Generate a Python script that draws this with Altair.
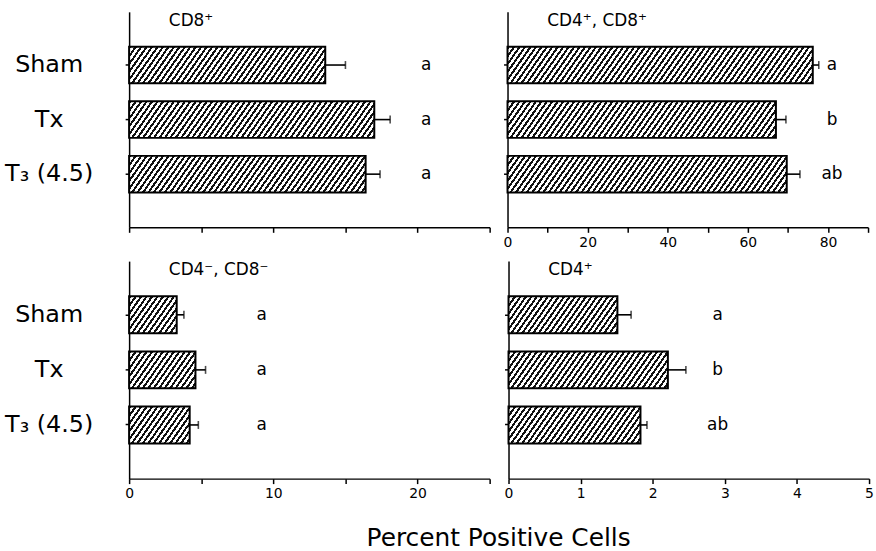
import math
import altair as alt
import pandas as pd

# ---------------- data ----------------
categories = ["Sham", "Tx", "T₃ (4.5)"]

cd8_pos = [13.6, 17.0, 16.4]
cd8_err = [1.4, 1.1, 1.0]
cd8_sig = ["a", "a", "a"]

dp_pos = [76.2, 67.0, 69.7]
dp_err = [1.5, 2.5, 3.3]
dp_sig = ["a", "b", "ab"]

dn_pos = [3.3, 4.6, 4.2]
dn_err = [0.5, 0.7, 0.6]
dn_sig = ["a", "a", "a"]

cd4_pos = [1.51, 2.21, 1.83]
cd4_err = [0.19, 0.25, 0.09]
cd4_sig = ["a", "b", "ab"]

# ---------------- style / layout ----------------
FONT = "DejaVu Sans"
PW = 363
P_IN = 0.33
P_OUT = 0.64


def hatch(w, h, angle=55, period=5.5, frac=0.45):
    """Diagonal hatch pattern as a linear gradient with hard stops."""
    th = math.radians(angle)
    s, c = math.sin(th), math.cos(th)
    smax = w * s + h * c
    k = smax / (w * w * s * s + h * h * c * c)
    pp = period * s
    stops = []
    n = int(math.ceil(smax / pp))
    for i in range(n):
        a = i * pp / smax
        if a >= 1:
            break
        b = min((i * pp + frac * pp) / smax, 1)
        e = min((i + 1) * pp / smax, 1)
        stops += [
            {"offset": round(a, 5), "color": "#111111"},
            {"offset": round(b, 5), "color": "#111111"},
            {"offset": round(b, 5), "color": "#ffffff"},
            {"offset": round(e, 5), "color": "#ffffff"},
        ]
    return {"gradient": "linear", "x1": 0, "y1": 0,
            "x2": round(k * w * s, 6), "y2": round(k * h * c, 6), "stops": stops}


def panel(title, vals, errs, sig, domain, ticks, label_mod, letter_x,
          y_labels, x_labels, ph):
    step = ph / (3 - P_IN + 2 * P_OUT)
    bw = step * (1 - P_IN)
    px = PW / (domain[1] - domain[0])
    df = pd.DataFrame({
        "idx": list(range(len(categories))),
        "cat": categories,
        "val": vals,
        "hi": [v + e for v, e in zip(vals, errs)],
        "sig": sig,
    })
    conds = [{"test": f"datum.idx === {i}", "value": hatch(v * px, bw)}
             for i, v in enumerate(vals[:-1])]
    fill = {"condition": conds, "value": hatch(vals[-1] * px, bw)}

    if y_labels:
        yaxis = alt.Axis(labels=True, labelFontSize=24, labelAlign="center",
                         labelBaseline="middle", labelPadding=77, tickSize=4,
                         title=None)
    else:
        yaxis = alt.Axis(labels=False, tickSize=4, title=None)

    if x_labels:
        xaxis = alt.Axis(values=ticks, tickSize=5, labelPadding=3, title=None,
                         format="~r",
                         labelExpr=f"abs(datum.value % {label_mod}) < 1e-6 ? datum.label : ''",
                         labelFlush=False)
    else:
        xaxis = alt.Axis(values=ticks, tickSize=5, labels=False, title=None)

    y = alt.Y("cat:N", sort=categories,
              scale=alt.Scale(paddingInner=P_IN, paddingOuter=P_OUT),
              axis=yaxis)
    ys = alt.Y("cat:N", sort=categories)
    x = alt.X("val:Q", scale=alt.Scale(domain=domain, nice=False, zero=False),
              axis=xaxis)

    base = alt.Chart(df)
    bars = base.mark_bar(stroke="black", strokeWidth=2, fillOpacity=1).encode(
        x=x, y=y, fill=fill)
    rules = base.mark_rule(color="black", strokeWidth=1.6).encode(
        x="val:Q", x2="hi:Q", y=ys)
    caps = base.mark_tick(color="black", thickness=1.6, size=8).encode(
        x="hi:Q", y=ys)
    letters = base.mark_text(font=FONT, fontSize=17, color="black",
                             align="center", baseline="middle").encode(
        x=alt.X(datum=letter_x), y=ys, text="sig:N")
    ttl = alt.Chart(pd.DataFrame({"t": [title]})).mark_text(
        font=FONT, fontSize=17, color="black", align="left", baseline="top").encode(
        x=alt.value(40), y=alt.value(1), text="t:N")
    return alt.layer(bars, rules, caps, letters, ttl).properties(width=PW, height=ph)


p1 = panel("CD8⁺", cd8_pos, cd8_err, cd8_sig, [0, 25],
           [0, 5, 10, 15, 20, 25], 10, 20.6, True, False, 217)
p2 = panel("CD4⁺, CD8⁺", dp_pos, dp_err, dp_sig, [0, 90],
           list(range(0, 91, 10)), 20, 81, False, True, 217)
p3 = panel("CD4⁻, CD8⁻", dn_pos, dn_err, dn_sig, [0, 25],
           [0, 5, 10, 15, 20, 25], 10, 9.2, True, True, 219)
p4 = panel("CD4⁺", cd4_pos, cd4_err, cd4_sig, [0, 5],
           [0, 0.5, 1, 1.5, 2, 2.5, 3, 3.5, 4, 4.5, 5], 1, 2.9, False, True, 219)

chart = alt.vconcat(
    alt.hconcat(p1, p2, spacing=12),
    alt.hconcat(p3, p4, spacing=13),
    spacing=12,
).properties(
    title=alt.TitleParams("Percent Positive Cells", orient="bottom",
                          anchor="middle", fontSize=25, font=FONT,
                          fontWeight="normal", color="black", offset=26, dx=60),
    padding={"left": 4, "top": 10, "right": 2, "bottom": 5},
).configure_axis(
    domainColor="black", tickColor="black", labelColor="black",
    domainWidth=1.5, tickWidth=1.5, grid=False, labelFont=FONT,
    labelFontSize=14,
).configure_view(stroke=None)

chart.save("out.html", embed_options={"renderer": "svg", "actions": False})
